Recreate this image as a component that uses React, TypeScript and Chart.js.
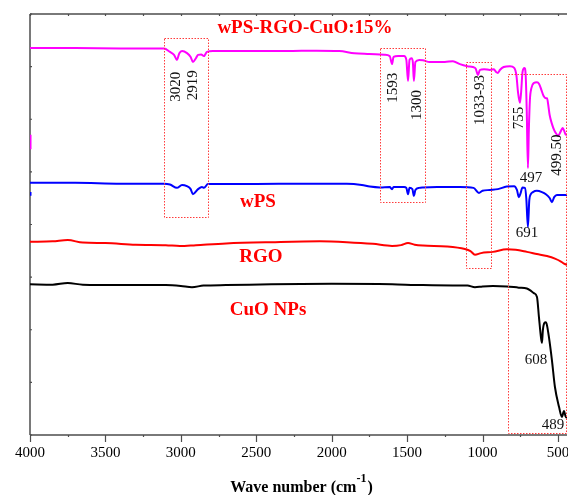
import { useEffect, useRef } from "react";
import { Chart, registerables } from "chart.js";

Chart.register(...registerables);

const SERIF = '"Liberation Serif", "Times New Roman", Times, serif';

// FTIR spectra: wavenumber (cm-1) and transmittance (a.u.)
const compositeWave = [4000, 3700, 3400, 3112, 3072, 3045, 3026, 3010, 2992, 2959, 2935, 2920, 2900, 2886, 2865, 2847, 2827, 2787, 2500, 2300, 2100, 1950, 1850, 1750, 1650, 1615, 1600, 1590, 1560, 1520, 1505, 1494, 1484, 1470, 1462, 1455, 1445, 1420, 1395, 1350, 1250, 1196, 1150, 1100, 1064, 1045, 1030, 1018, 990, 951, 925, 910, 898, 885, 860, 818, 790, 775, 765, 752, 744, 735, 722, 714, 707, 699, 693, 686, 676, 660, 639, 625, 610, 595, 580, 572, 565, 555, 540, 525, 510, 500, 490, 478, 468, 458, 448, 440];
const compositeT = [91.9, 91.9, 91.8, 91.8, 91.0, 90.3, 89.1, 90.7, 91.2, 90.7, 89.8, 88.6, 89.5, 90.3, 90.4, 90.0, 91.0, 91.2, 91.2, 91.2, 91.3, 91.2, 90.7, 90.5, 90.3, 90.0, 88.1, 89.8, 90.0, 90.0, 89.1, 84.1, 89.1, 89.5, 88.6, 84.1, 88.6, 89.1, 89.0, 88.6, 88.6, 88.8, 88.1, 87.6, 87.4, 87.0, 85.5, 86.7, 86.9, 86.7, 86.9, 86.2, 86.0, 86.7, 87.4, 87.6, 87.2, 85.3, 81.5, 78.9, 81.5, 86.2, 87.2, 85.5, 77.2, 63.4, 72.4, 79.6, 82.4, 83.6, 83.8, 83.4, 82.0, 80.5, 80.0, 80.0, 78.6, 76.0, 73.9, 72.4, 71.5, 71.1, 71.5, 72.4, 72.9, 72.2, 71.3, 71.3];

const wpsWave = [4000, 3700, 3400, 3112, 3072, 3026, 2992, 2960, 2935, 2920, 2886, 2860, 2847, 2820, 2500, 2200, 1900, 1800, 1747, 1680, 1615, 1600, 1590, 1520, 1505, 1494, 1484, 1465, 1455, 1445, 1420, 1395, 1300, 1150, 1060, 1024, 1000, 951, 898, 840, 790, 772, 759, 748, 735, 719, 710, 699, 690, 680, 666, 640, 606, 580, 555, 540, 525, 507, 470, 440];
const wpsT = [59.9, 59.9, 59.7, 59.7, 59.5, 58.7, 59.4, 59.1, 58.4, 57.2, 58.4, 58.9, 58.7, 59.6, 59.6, 59.7, 59.7, 59.4, 59.0, 58.8, 58.9, 58.4, 58.9, 58.9, 58.7, 57.2, 58.7, 58.4, 56.8, 58.2, 58.7, 58.8, 58.9, 58.9, 58.7, 57.5, 58.0, 58.2, 58.4, 59.0, 59.1, 58.2, 56.5, 57.4, 58.8, 58.7, 56.3, 49.4, 55.8, 57.2, 57.7, 58.0, 57.7, 57.2, 56.3, 55.3, 56.5, 57.0, 57.0, 57.0];

const rgoWave = [4000, 3850, 3750, 3650, 3500, 3300, 3100, 3006, 2900, 2700, 2400, 2078, 1900, 1727, 1600, 1540, 1494, 1450, 1395, 1236, 1117, 1080, 1050, 1010, 931, 838, 780, 706, 640, 573, 520, 480, 460, 440];
const rgoT = [45.9, 46.0, 46.3, 45.7, 45.6, 45.2, 45.1, 44.9, 45.1, 45.5, 45.8, 46.0, 45.8, 45.4, 44.9, 45.1, 45.6, 45.2, 45.0, 44.8, 44.2, 43.7, 42.8, 43.2, 43.5, 44.1, 44.0, 43.5, 43.0, 42.5, 41.9, 41.2, 40.7, 40.4];

const cuoWave = [4000, 3850, 3750, 3650, 3400, 3100, 3000, 2926, 2850, 2700, 2400, 2000, 1600, 1395, 1100, 1050, 1000, 931, 838, 760, 706, 686, 660, 639, 626, 612, 606, 600, 590, 580, 573, 560, 540, 520, 493, 474, 460, 450, 440];
const cuoT = [35.8, 35.7, 36.1, 35.7, 35.6, 35.6, 35.4, 35.1, 35.5, 35.6, 35.8, 35.9, 35.8, 35.6, 35.5, 35.1, 35.3, 35.4, 35.3, 35.0, 34.8, 34.4, 33.7, 32.8, 28.0, 23.0, 21.9, 24.9, 26.6, 26.8, 26.1, 23.3, 17.8, 11.4, 6.7, 4.3, 5.7, 4.5, 4.0];

// short scan-start segments at 4000 cm-1
const compositeStartT = [71.3, 67.9];
const wpsStartT = [57.7, 56.8];

// x-axis tick labels
const tickWaves = [4000, 3500, 3000, 2500, 2000, 1500, 1000, 500];

// series names
const seriesNames = ["wPS-RGO-CuO:15%", "wPS", "RGO", "CuO NPs"];
const nameWave = [2177, 2489, 2469, 2422];
const nameT = [96.7, 55.3, 42.3, 29.7];

// vertical peak labels
const peakText = ["3020", "2919", "1593", "1300", "1033-93", "755", "499.50"];
const peakWave = [3032, 2920, 1594, 1437, 1017, 759, 507];
const peakT = [82.7, 83.1, 82.5, 78.4, 79.6, 75.3, 66.5];

// horizontal band labels
const bandText = ["497", "691", "608", "489"];
const bandWave = [679, 706, 646, 533];
const bandT = [61.0, 48.0, 17.8, 2.4];

// dotted highlight regions: [wave from, wave to], [T top, T bottom]
const boxWave = [[3112, 2820], [1680, 1382], [1110, 944], [832, 447]];
const boxT = [[94.3, 51.8], [91.9, 55.3], [88.6, 39.7], [85.7, 0.5]];

const pairs = (xs: number[], ys: number[]) => xs.map((x, i) => ({ x, y: ys[i] }));

const framePlugin = {
  id: "frame",
  beforeDatasetsDraw(chart: any) {
    const { ctx, chartArea: a, scales } = chart;
    const xs = scales.x;
    const ys = scales.y;
    ctx.save();
    ctx.strokeStyle = "#4d4d4d";
    ctx.lineWidth = 1.5;
    ctx.beginPath();
    ctx.moveTo(a.left, a.top);
    ctx.lineTo(a.right, a.top);
    ctx.moveTo(a.left, a.top);
    ctx.lineTo(a.left, a.bottom);
    ctx.moveTo(a.left, a.bottom);
    ctx.lineTo(a.right, a.bottom);
    ctx.stroke();
    ctx.lineWidth = 1.2;
    ctx.beginPath();
    for (let w = 4000; w >= xs.min; w -= 250) {
      const px = Math.round(xs.getPixelForValue(w)) + 0.5;
      const major = w % 500 === 0;
      ctx.moveTo(px, a.bottom);
      ctx.lineTo(px, a.bottom + (major ? 7 : 2));
      ctx.moveTo(px, a.top);
      ctx.lineTo(px, a.top + 2);
    }
    for (let v = 0; v <= 100; v += 12.5) {
      const py = ys.getPixelForValue(v);
      ctx.moveTo(a.left, py);
      ctx.lineTo(a.left + 2, py);
    }
    ctx.stroke();
    ctx.restore();
  },
};

const notesPlugin = {
  id: "notes",
  afterDatasetsDraw(chart: any) {
    const { ctx, scales } = chart;
    const xs = scales.x;
    const ys = scales.y;
    ctx.save();
    // dotted boxes
    ctx.strokeStyle = "#ff3b3b";
    ctx.lineWidth = 1;
    ctx.setLineDash([1.5, 1.5]);
    boxWave.forEach((bw, i) => {
      const x1 = xs.getPixelForValue(bw[0]);
      const x2 = xs.getPixelForValue(bw[1]);
      const y1 = ys.getPixelForValue(boxT[i][0]);
      const y2 = ys.getPixelForValue(boxT[i][1]);
      ctx.strokeRect(Math.round(x1) + 0.5, Math.round(y1) + 0.5, Math.round(x2 - x1), Math.round(y2 - y1));
    });
    ctx.setLineDash([]);

    // series names
    ctx.fillStyle = "#ff0000";
    ctx.font = `bold 19px ${SERIF}`;
    ctx.textAlign = "center";
    ctx.textBaseline = "middle";
    seriesNames.forEach((t, i) => {
      ctx.fillText(t, xs.getPixelForValue(nameWave[i]), ys.getPixelForValue(nameT[i]));
    });

    // peak labels
    ctx.fillStyle = "#111";
    ctx.font = `15px ${SERIF}`;
    peakText.forEach((t, i) => {
      ctx.save();
      ctx.translate(xs.getPixelForValue(peakWave[i]), ys.getPixelForValue(peakT[i]));
      ctx.rotate(-Math.PI / 2);
      ctx.fillText(t, 0, 0);
      ctx.restore();
    });
    bandText.forEach((t, i) => {
      ctx.fillText(t, xs.getPixelForValue(bandWave[i]), ys.getPixelForValue(bandT[i]));
    });
    ctx.restore();
  },
  afterDraw(chart: any) {
    const { ctx, chartArea: a } = chart;
    ctx.save();
    ctx.fillStyle = "#000";
    ctx.textBaseline = "alphabetic";
    ctx.textAlign = "left";
    const main = "Wave number (cm";
    const sup = "-1";
    const close = ")";
    ctx.font = `bold 16px ${SERIF}`;
    const wMain = ctx.measureText(main).width;
    const wClose = ctx.measureText(close).width;
    ctx.font = `bold 12px ${SERIF}`;
    const wSup = ctx.measureText(sup).width;
    const total = wMain + wSup + wClose + 1;
    const cx = (a.left + a.right) / 2 + 3;
    let x = cx - total / 2;
    const base = 492;
    ctx.font = `bold 16px ${SERIF}`;
    ctx.fillText(main, x, base);
    x += wMain;
    ctx.font = `bold 12px ${SERIF}`;
    ctx.fillText(sup, x, base - 10);
    x += wSup + 1;
    ctx.font = `bold 16px ${SERIF}`;
    ctx.fillText(close, x, base);
    ctx.restore();
  },
};

export default function App() {
  const canvasRef = useRef<HTMLCanvasElement | null>(null);

  useEffect(() => {
    const canvas = canvasRef.current;
    if (!canvas) return;
    const line = (data: any, color: string, width = 2, smooth = true) => ({
      data,
      borderColor: color,
      backgroundColor: color,
      borderWidth: width,
      pointRadius: 0,
      fill: false,
      tension: 0,
      cubicInterpolationMode: smooth ? "monotone" : "default",
    });
    const chart = new Chart(canvas, {
      type: "line",
      data: {
        datasets: [
          line(pairs(cuoWave, cuoT), "#000000"),
          line(pairs(rgoWave, rgoT), "#ff0000"),
          line(pairs(wpsWave, wpsT), "#0000ff"),
          line(pairs(compositeWave, compositeT), "#ff00ff"),
          line(pairs([4000, 4000], compositeStartT), "#ff00ff", 3, false),
          line(pairs([4000, 4000], wpsStartT), "#0000ff", 3, false),
        ] as any,
      },
      options: {
        animation: false,
        responsive: false,
        maintainAspectRatio: false,
        parsing: false,
        layout: { padding: { left: 30, right: 1, top: 14, bottom: 0 } },
        plugins: {
          legend: { display: false },
          tooltip: { enabled: false },
          title: { display: false },
        },
        scales: {
          x: {
            type: "linear",
            reverse: true,
            min: 440,
            max: 4000,
            grid: { display: false, drawTicks: false, tickLength: 0 },
            border: { display: false },
            afterBuildTicks: (s: any) => {
              s.ticks = tickWaves.map((v) => ({ value: v }));
            },
            afterFit: (s: any) => {
              s.height = 60;
              // let the end labels overhang the plot edges
              s.paddingLeft = 0;
              s.paddingRight = 0;
            },
            ticks: {
              color: "#000",
              font: { family: SERIF, size: 15 },
              padding: 9,
              maxRotation: 0,
              autoSkip: false,
              callback: (v: any) => String(v),
            },
          },
          y: { display: false, min: 0, max: 100 },
        },
      } as any,
      plugins: [framePlugin, notesPlugin],
    });
    return () => chart.destroy();
  }, []);

  return (
    <div style={{ position: "fixed", left: 0, top: 0, width: 568, height: 495, background: "#fff" }}>
      <canvas ref={canvasRef} width={568} height={495} style={{ display: "block" }} />
    </div>
  );
}
